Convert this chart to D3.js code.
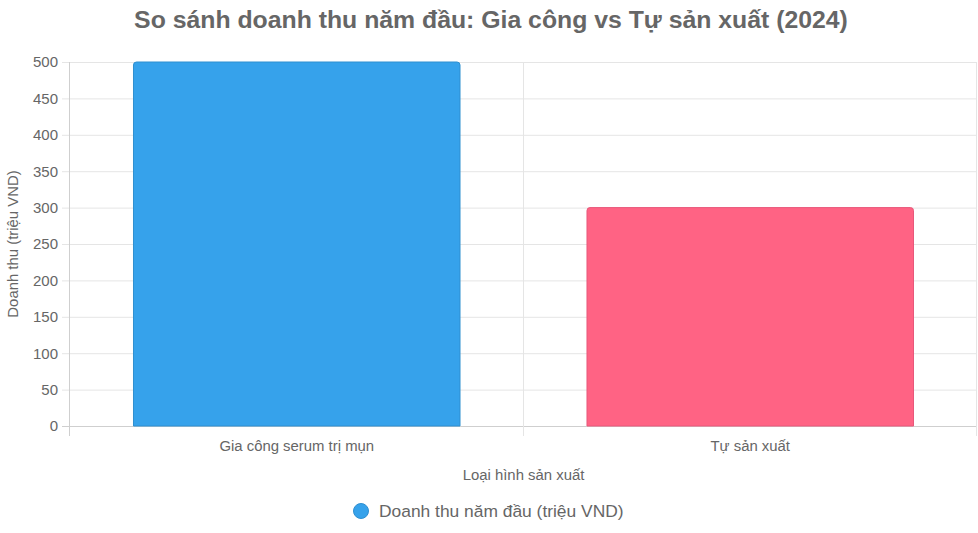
<!DOCTYPE html>
<html><head><meta charset="utf-8">
<script src="https://cdn.jsdelivr.net/npm/d3@7"></script>
<style>body{margin:0;background:#fff}svg{display:block;font-family:"Liberation Sans",Arial,Helvetica,sans-serif}</style>
</head><body><svg id="c" width="978" height="533"></svg>
<script>
const categories = ["Gia công serum trị mụn", "Tự sản xuất"];
const values = [500, 300];
const colors = ["#36A2EB", "#FF6384"];
const borders = ["#2f8fd0", "#e8587a"];
const yTicks = [0, 50, 100, 150, 200, 250, 300, 350, 400, 450, 500];
const title = "So sánh doanh thu năm đầu: Gia công vs Tự sản xuất (2024)";
const yTitle = "Doanh thu (triệu VND)";
const xTitle = "Loại hình sản xuất";
const legendLabel = "Doanh thu năm đầu (triệu VND)";

const svg = d3.select("#c");
const L = 70, R = 977, T = 62, B = 426;
const x = d3.scaleBand().domain(categories).range([L, R]).paddingInner(0).paddingOuter(0);
const y = d3.scaleLinear().domain([0, 500]).range([B, T]);

svg.append("text").attr("x", 491).attr("y", 28).attr("text-anchor", "middle")
  .attr("font-size", 24.8).attr("font-weight", "bold").attr("fill", "#666").text(title);

const grid = svg.append("g");
yTicks.forEach(t => {
  grid.append("line").attr("x1", L - 8).attr("x2", R).attr("y1", y(t) + 0.5).attr("y2", y(t) + 0.5)
    .attr("stroke", t === 0 ? "#cfcfcf" : "#e5e5e5").attr("stroke-width", 1);
});
const bounds = [L, ...categories.map(c => x(c) + x.bandwidth())];
bounds.forEach((b, i) => {
  grid.append("line").attr("x1", Math.round(b) - 0.5).attr("x2", Math.round(b) - 0.5).attr("y1", T).attr("y2", B + 10)
    .attr("stroke", i === 0 ? "#cfcfcf" : "#e5e5e5").attr("stroke-width", 1);
});

const yAxis = d3.axisLeft(y).tickValues(yTicks).tickSize(0).tickPadding(12);
const ga = svg.append("g").attr("transform", `translate(${L},0)`).call(yAxis);
ga.select(".domain").remove();
ga.selectAll("text").attr("font-size", 15).attr("fill", "#666").attr("font-family", "Liberation Sans, Arial, sans-serif");

const xAxis = d3.axisBottom(x).tickSize(0).tickPadding(14);
const gx = svg.append("g").attr("transform", `translate(0,${B})`).call(xAxis);
gx.select(".domain").remove();
gx.selectAll("text").attr("font-size", 14.9).attr("fill", "#666").attr("font-family", "Liberation Sans, Arial, sans-serif");

const bw = x.bandwidth() * 0.72;
const r = 3;
categories.forEach((c, i) => {
  const x0 = x(c) + (x.bandwidth() - bw) / 2, x1 = x0 + bw, y0 = y(values[i]), y1 = y(0);
  const p = `M${x0},${y1} L${x0},${y0 + r} Q${x0},${y0} ${x0 + r},${y0} L${x1 - r},${y0} Q${x1},${y0} ${x1},${y0 + r} L${x1},${y1} Z`;
  svg.append("path").attr("d", p).attr("fill", colors[i]).attr("stroke", borders[i]).attr("stroke-width", 1);
});

svg.append("text").attr("transform", `translate(18,${(T + B) / 2}) rotate(-90)`).attr("text-anchor", "middle")
  .attr("font-size", 14.9).attr("fill", "#666").text(yTitle);
svg.append("text").attr("x", (L + R) / 2).attr("y", 480).attr("text-anchor", "middle")
  .attr("font-size", 14.9).attr("fill", "#666").text(xTitle);

svg.append("circle").attr("cx", 361).attr("cy", 511).attr("r", 7.5).attr("fill", colors[0]).attr("stroke", borders[0]).attr("stroke-width", 1);
svg.append("text").attr("x", 379).attr("y", 517).attr("font-size", 17.4).attr("fill", "#666").text(legendLabel);
</script></body></html>
